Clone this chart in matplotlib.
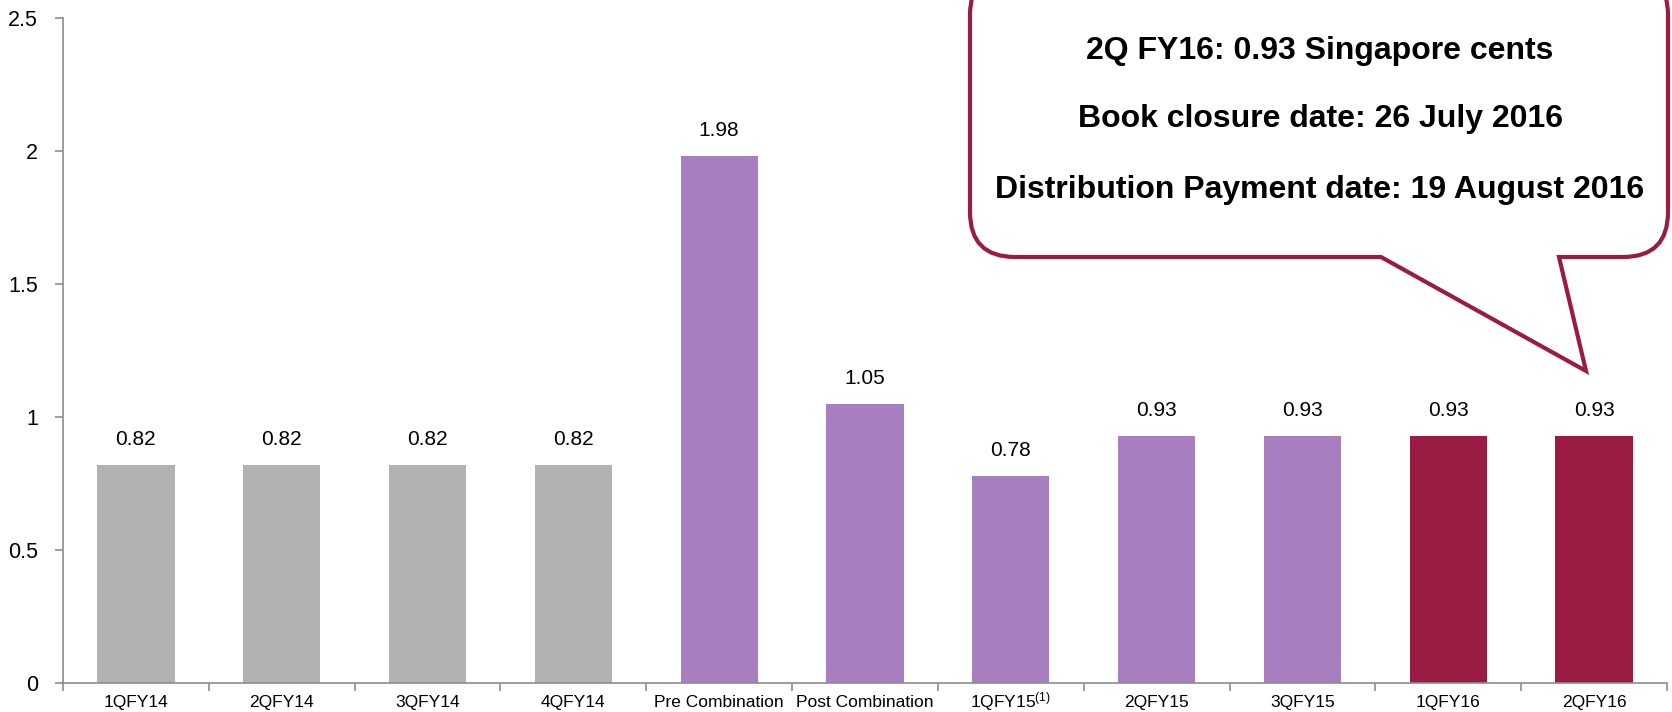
import matplotlib
matplotlib.use("Agg")
import matplotlib.pyplot as plt
from matplotlib.patches import PathPatch
from matplotlib.path import Path

plt.rcParams.update(
    {
        "font.family": ["Liberation Sans", "DejaVu Sans"],
        "mathtext.fontset": "custom",
        "mathtext.rm": "Liberation Sans",
        "mathtext.it": "Liberation Sans",
    }
)

categories = [
    "1QFY14", "2QFY14", "3QFY14", "4QFY14", "Pre Combination", "Post Combination",
    "1QFY15$^{(1)}$", "2QFY15", "3QFY15", "1QFY16", "2QFY16",
]
values = [0.82, 0.82, 0.82, 0.82, 1.98, 1.05, 0.78, 0.93, 0.93, 0.93, 0.93]
groups = ["FY14"] * 4 + ["FY15"] * 5 + ["FY16"] * 2
callout_lines = [
    "2Q FY16: 0.93 Singapore cents",
    "Book closure date: 26 July 2016",
    "Distribution Payment date: 19 August 2016",
]

GROUP_COLORS = {"FY14": "#B1B2B4", "FY15": "#A77FC0", "FY16": "#9B1C43"}
AXIS_COLOR = "#8C8C8C"
W, H = 1672, 712

fig = plt.figure(figsize=(W / 100, H / 100), dpi=100)
ax = fig.add_axes([63 / W, 1 - 683 / H, (1667 - 63) / W, (683 - 18) / H])

x = list(range(len(categories)))
bars = ax.bar(x, values, width=0.53, color=[GROUP_COLORS[g] for g in groups], zorder=2)
for bar, v in zip(bars, values):
    ax.text(bar.get_x() + bar.get_width() / 2, v + 0.06, f"{v:.2f}",
            ha="center", va="bottom", fontsize=15)

ax.set_xlim(-0.5, len(categories) - 0.5)
ax.set_ylim(0, 2.5)
ax.set_yticks([0, 0.5, 1, 1.5, 2, 2.5])
ax.set_yticklabels(["0", "0.5", "1", "1.5", "2", "2.5"], fontsize=15.5)
ax.set_xticks(x)
ax.set_xticklabels(categories, fontsize=12.5)
for lbl in ax.get_xticklabels():
    lbl.set_verticalalignment("baseline")
ax.set_xticks([i - 0.5 for i in range(len(categories) + 1)], minor=True)
ax.tick_params(axis="x", which="major", length=0, pad=17.5)
ax.tick_params(axis="x", which="minor", length=6, color=AXIS_COLOR, width=1.2)
ax.tick_params(axis="y", length=6, color=AXIS_COLOR, width=1.2, pad=12)
for side in ("top", "right"):
    ax.spines[side].set_visible(False)
for side in ("left", "bottom"):
    ax.spines[side].set_color(AXIS_COLOR)
    ax.spines[side].set_linewidth(1.2)

# speech-bubble callout (pixel coords from the top-left of the image)
L, R, T, B, r = 970, 1668, -30, 257, 45
p1, p2, tip = 1381, 1559, (1586, 371)
pts = [
    ((L + r, T), Path.MOVETO),
    ((R - r, T), Path.LINETO),
    ((R, T), Path.CURVE3), ((R, T + r), Path.CURVE3),
    ((R, B - r), Path.LINETO),
    ((R, B), Path.CURVE3), ((R - r, B), Path.CURVE3),
    ((p2, B), Path.LINETO),
    (tip, Path.LINETO),
    ((p1, B), Path.LINETO),
    ((L + r, B), Path.LINETO),
    ((L, B), Path.CURVE3), ((L, B - r), Path.CURVE3),
    ((L, T + r), Path.LINETO),
    ((L, T), Path.CURVE3), ((L + r, T), Path.CURVE3),
    ((L + r, T), Path.CLOSEPOLY),
]
verts = [(px / W, 1 - py / H) for (px, py), _ in pts]
codes = [c for _, c in pts]
bubble = PathPatch(Path(verts, codes), facecolor="white", edgecolor="#9B1C43",
                   linewidth=3, transform=fig.transFigure, clip_on=False, zorder=5)
fig.add_artist(bubble)

for ypix, line in zip([51, 119, 190], callout_lines):
    fig.text(1320 / W, 1 - ypix / H, line, ha="center", va="center",
             fontsize=23, fontweight="bold", zorder=6)

fig.savefig("out.png", dpi=100)
